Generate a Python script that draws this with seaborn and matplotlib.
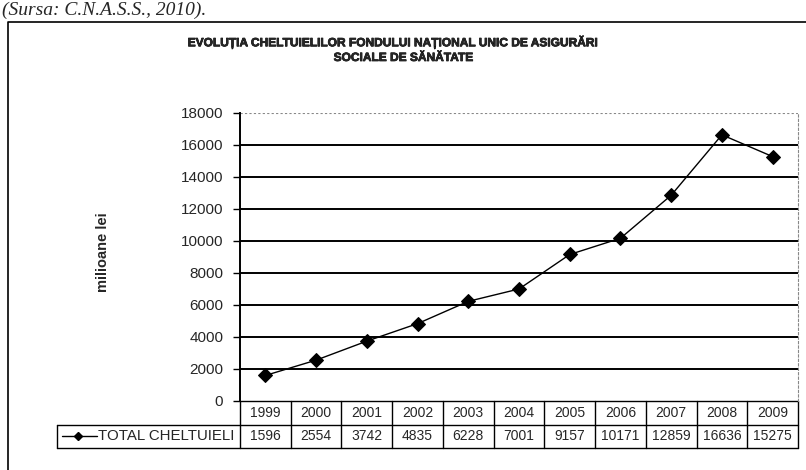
import matplotlib
matplotlib.use("Agg")
import matplotlib.pyplot as plt
import matplotlib.patheffects as pe
import seaborn as sns
import pandas as pd
from matplotlib.patches import Rectangle

# date din grafic (milioane lei)
ani = ["1999", "2000", "2001", "2002", "2003", "2004", "2005", "2006", "2007", "2008", "2009"]
total_cheltuieli = [1596, 2554, 3742, 4835, 6228, 7001, 9157, 10171, 12859, 16636, 15275]
y_ticks = [0, 2000, 4000, 6000, 8000, 10000, 12000, 14000, 16000, 18000]
serie_nume = "TOTAL CHELTUIELI"

sns.set_style("white")
plt.rcParams["font.family"] = ["Liberation Sans", "DejaVu Sans"]

df = pd.DataFrame({"an": range(len(ani)), "total": total_cheltuieli})

fig = plt.figure(figsize=(8.06, 4.70), dpi=100)
W, H = 806, 470
ax = fig.add_axes([240 / W, (H - 401) / H, 558 / W, 288 / H])
col_w = 558 / len(ani)

# chenarul exterior (stanga si sus)
fig.lines.append(plt.Line2D([8 / W, 8 / W, 1.0], [0, 1 - 22 / H, 1 - 22 / H],
                            transform=fig.transFigure, color="black", linewidth=1.2))

# sursa datelor
fig.text(2 / W, 1 - 15 / H, "(Sursa: C.N.A.S.S., 2010).", family="Liberation Serif",
         style="italic", fontsize=14, va="baseline", ha="left")

# linii de grila
for t in y_ticks[1:-1]:
    ax.axhline(t, color="black", linewidth=1.4, zorder=1)
ax.axhline(y_ticks[-1], color="#888888", linewidth=0.8, linestyle=(0, (2, 2)), zorder=1)

sns.lineplot(data=df, x="an", y="total", ax=ax, color="black", linewidth=1.0,
             marker="D", markersize=7, markeredgecolor="black", zorder=3)

ax.set_xlim(-0.5, len(ani) - 0.5)
ax.set_ylim(0, 18000)
ax.set_yticks(y_ticks)
ax.set_yticklabels([str(t) for t in y_ticks], fontsize=11)
ax.set_xticks([])
ax.set_xlabel("")
ax.set_ylabel("milioane lei", fontsize=10.5, fontweight="bold")
ax.yaxis.set_label_coords((110 - 240) / 558, (401 - 252) / 288)
ax.tick_params(axis="y", length=5, width=1, color="black", left=True, pad=7)
for s in ["top", "bottom"]:
    ax.spines[s].set_visible(False)
ax.spines["left"].set_color("black")
ax.spines["left"].set_linewidth(1.4)
ax.spines["right"].set_color("#888888")
ax.spines["right"].set_linestyle((0, (2, 2)))
ax.spines["right"].set_linewidth(0.8)

# tabelul de date sub grafic
tr = ax.get_xaxis_transform()
rh = 23.5 / 288
n = len(ani)
x0, x1 = -0.5, n - 0.5
leg_x = -0.5 + (57 - 240) / col_w
kw = dict(transform=tr, clip_on=False, color="black", linewidth=1.0)
ax.plot([x0, x1], [0, 0], **kw)
ax.plot([leg_x, x1], [-rh, -rh], **kw)
ax.plot([leg_x, x1], [-2 * rh, -2 * rh], **kw)
ax.plot([leg_x, leg_x], [-rh, -2 * rh], **kw)
for i in range(n + 1):
    ax.plot([i - 0.5, i - 0.5], [0, -2 * rh], **kw)
for i in range(n):
    ax.text(i, -rh / 2, ani[i], transform=tr, ha="center", va="center", fontsize=10)
    ax.text(i, -1.5 * rh, str(total_cheltuieli[i]), transform=tr, ha="center",
            va="center", fontsize=10)

# simbolul legendei in tabel
ax.plot([leg_x + 0.1, leg_x + 0.78], [-1.5 * rh, -1.5 * rh], transform=tr,
        clip_on=False, color="black", linewidth=1.0)
ax.plot([leg_x + 0.42], [-1.5 * rh], transform=tr, clip_on=False, color="black",
        marker="D", markersize=4.5)
leg_txt = ax.text(leg_x + 0.8, -1.5 * rh, serie_nume, transform=tr, ha="left",
                  va="center", fontsize=10.8)
clip = Rectangle((leg_x, -2 * rh), -0.5 - leg_x - 0.04, rh, transform=tr)
leg_txt.set_clip_path(clip)

# titlu
title_fx = [pe.withStroke(linewidth=0.5, foreground="black")]
fig.text(391 / W, 1 - 42 / H, "EVOLUȚIA CHELTUIELILOR FONDULUI NAȚIONAL UNIC DE ASIGURĂRI",
         ha="center", va="center", fontsize=8.6, fontweight="bold", path_effects=title_fx)
fig.text(403 / W, 1 - 58 / H, "SOCIALE DE SĂNĂTATE",
         ha="center", va="center", fontsize=8.6, fontweight="bold", path_effects=title_fx)

fig.savefig("out.png", dpi=100)
